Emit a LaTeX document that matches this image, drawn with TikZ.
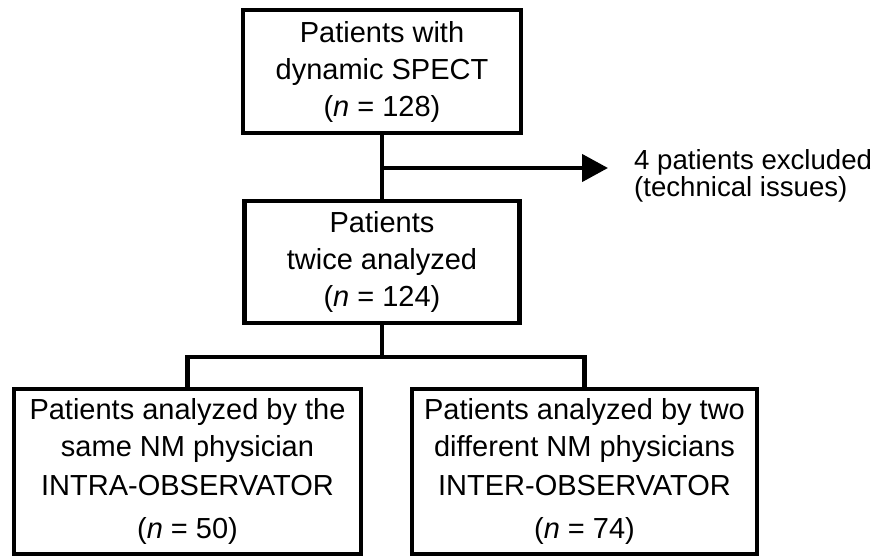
\documentclass[tikz,border=0pt]{standalone}
\usepackage{fontspec}
\setmainfont{Liberation Sans}
\usetikzlibrary{arrows.meta}

\newlength{\du}
\setlength{\du}{1pt}

\tikzset{
  flowbox/.style={draw=dialinecolor, line width=4.5\du, inner sep=0pt, align=center,
    font=\fontsize{29}{37}\selectfont},
  flowline/.style={draw=dialinecolor, line width=4.5\du},
}

\begin{document}
\begin{tikzpicture}
\pgftransformxscale{1.000000}
\pgftransformyscale{-1.000000}
\definecolor{dialinecolor}{rgb}{0.000000, 0.000000, 0.000000}
\useasboundingbox (0\du,0\du) rectangle (881\du,559\du);
% boxes
\node[flowbox, minimum width=278\du, minimum height=123\du] (spect) at (382\du,71.5\du)
  {Patients with\\dynamic SPECT\\(\textit{n} = 128)};
\node[flowbox, minimum width=275\du, minimum height=122\du] (twice) at (382\du,262\du)
  {Patients\\twice analyzed\\(\textit{n} = 124)};
\node[flowbox, minimum width=347\du, minimum height=165\du] (intra) at (187.5\du,471.5\du)
  {Patients analyzed by the\\same NM physician\\[2\du]INTRA-OBSERVATOR\\[6\du](\textit{n} = 50)};
\node[flowbox, minimum width=345\du, minimum height=165\du] (inter) at (584.5\du,471.5\du)
  {Patients analyzed by two\\different NM physicians\\[2\du]INTER-OBSERVATOR\\[6\du](\textit{n} = 74)};
% excluded
\node[anchor=west, inner sep=0pt, align=left, font=\fontsize{27.6}{27}\selectfont] (excl) at (634\du,176\du)
  {4 patients excluded\\(technical issues)};
% connectors
\coordinate (split) at (382\du,168\du);
\coordinate (fork) at (382\du,357\du);
\draw[flowline] (spect.south) -- (twice.north);
\draw[flowline, -{Triangle[length=26pt,width=27pt]}, shorten >=26pt] (split) -- (split -| excl.west);
\draw[flowline] (twice.south) -- (fork);
\draw[flowline] (intra.north) |- (fork) -| (inter.north);
\end{tikzpicture}
\end{document}
